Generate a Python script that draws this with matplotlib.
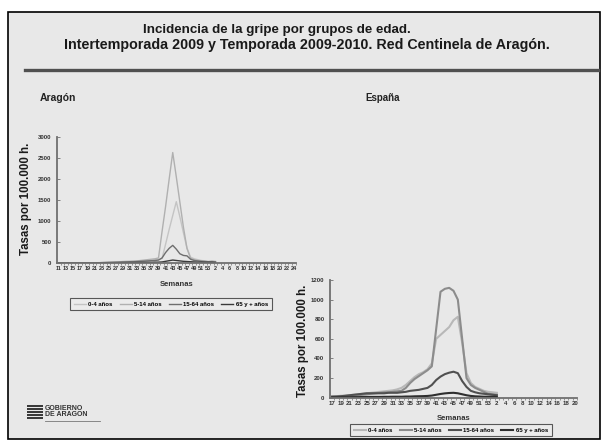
import numpy as np
import matplotlib
matplotlib.use("Agg")
import matplotlib.pyplot as plt
from matplotlib.patches import Rectangle
from matplotlib.lines import Line2D

plt.rcParams['font.family'] = ['Liberation Sans', 'DejaVu Sans']

W, H = 602, 441

# ---- data ----
age_groups = ['0-4 años', '5-14 años', '15-64 años', '65 y + años']

# Aragón: semanas 11/2009 - 24/2010, datos hasta la semana 2/2010
weeks_ar = list(range(11, 54)) + list(range(1, 25))
ar_0_4 = [0, 0, 0, 0, 0, 0, 0, 0, 0, 0, 5, 5,
          10, 10, 15, 20, 20, 25, 30, 30,
          35, 40, 40, 45, 50, 55, 60, 70,
          80, 110, 450, 800, 1130, 1460, 1100, 720, 350, 140,
          100, 80, 60, 50, 40, 50, 40]
ar_5_14 = [0, 0, 0, 0, 0, 0, 0, 0, 0, 0, 5, 5,
           10, 15, 20, 20, 25, 30, 35, 40,
           40, 45, 50, 60, 70, 80, 90, 100,
           120, 750, 1350, 2000, 2630, 2050, 1450, 850, 350, 110,
           80, 60, 50, 40, 30, 40, 30]
ar_15_64 = [0, 0, 0, 0, 0, 0, 0, 0, 0, 0, 3, 5,
            8, 10, 12, 15, 18, 20, 25, 25,
            30, 30, 35, 40, 45, 50, 55, 60,
            70, 120, 250, 350, 420, 330, 220, 180, 170, 90,
            60, 50, 40, 35, 30, 30, 25]
ar_65 = [0, 0, 0, 0, 0, 0, 0, 0, 0, 0, 0, 0,
         2, 3, 5, 5, 5, 8, 8, 10,
         10, 10, 12, 12, 15, 15, 15, 20,
         20, 25, 40, 55, 70, 60, 50, 40, 35, 30,
         25, 20, 20, 15, 15, 15, 10]

# España: semanas 17/2009 - 20/2010, datos hasta la semana 2/2010
weeks_es = list(range(17, 54)) + list(range(1, 21))
es_0_4 = [15, 15, 20, 20, 25, 30, 35, 40, 45, 50,
          55, 60, 65, 70, 75, 85, 100, 130,
          170, 210, 240, 260, 290, 350, 600, 640, 680, 720, 790, 825,
          560, 250, 150, 110, 90, 70, 60,
          55, 50]
es_5_14 = [10, 10, 12, 12, 15, 20, 25, 30, 35, 40,
           45, 50, 55, 55, 60, 65, 70, 100,
           150, 190, 220, 250, 280, 320, 700, 1080, 1110, 1120, 1090, 1000,
           600, 200, 130, 100, 80, 60, 40,
           35, 30]
es_15_64 = [10, 12, 15, 20, 25, 30, 35, 40, 45, 45,
            45, 45, 45, 50, 50, 50, 55, 60,
            70, 75, 80, 90, 100, 130, 180, 215, 240, 255, 265, 250,
            170, 110, 70, 55, 45, 40, 35,
            30, 25]
es_65 = [3, 3, 4, 5, 5, 6, 6, 7, 8, 8,
         8, 8, 9, 9, 10, 10, 10, 12,
         12, 14, 15, 16, 18, 22, 30, 38, 44, 48, 50, 45,
         35, 25, 18, 14, 12, 10, 10,
         10, 8]

ar_yticks = [0, 500, 1000, 1500, 2000, 2500, 3000]
es_yticks = [0, 200, 400, 600, 800, 1000, 1200]

ar_colors = ['#c4c4c4', '#b0b0b0', '#6e6e6e', '#3a3a3a']
es_colors = ['#b8b8b8', '#8c8c8c', '#505050', '#2e2e2e']


def box(l, t, r, b):
    return [l / W, 1 - b / H, (r - l) / W, (b - t) / H]


def fx(x):
    return x / W


def fy(y):
    return 1 - y / H


fig = plt.figure(figsize=(W / 100, H / 100), dpi=100, facecolor='white')

# fondo de la diapositiva
fig.patches.append(Rectangle((fx(8), fy(439)), fx(600) - fx(8), fy(12) - fy(439),
                             transform=fig.transFigure, facecolor='#e8e8e8',
                             edgecolor='black', linewidth=1.2, zorder=-5))
fig.lines.append(Line2D([fx(25), fx(598)], [fy(69.5), fy(69.5)],
                        transform=fig.transFigure, color='#505050', linewidth=2.4))

fig.text(fx(277), fy(30), 'Incidencia de la gripe por grupos de edad.',
         ha='center', va='center', fontsize=9.6, fontweight='bold', color='#1a1a1a')
fig.text(fx(307), fy(45), 'Intertemporada 2009 y Temporada 2009-2010. Red Centinela de Aragón.',
         ha='center', va='center', fontsize=10.3, fontweight='bold', color='#1a1a1a')

fig.text(fx(40), fy(98), 'Aragón', ha='left', va='center', fontsize=7.5,
         fontweight='bold', color='#222222')
fig.text(fx(383), fy(98), 'España', ha='center', va='center', fontsize=7,
         fontweight='bold', color='#222222')


def draw_panel(rect, weeks, series, colors, lw, yticks, xsize, ylab_x, ylab_y,
               sem_y, leg_xy, colsp):
    ax = fig.add_axes(rect)
    ax.set_facecolor('none')
    n = len(weeks)
    handles = []
    for vals, col, lab in zip(series, colors, age_groups):
        y = np.full(n, np.nan)
        y[:len(vals)] = vals
        h, = ax.plot(np.arange(n), y, color=col, linewidth=lw, label=lab)
        handles.append(h)
    ax.set_xlim(-0.5, n - 0.5)
    ax.set_ylim(0, yticks[-1])
    ax.set_yticks(yticks)
    ax.set_yticklabels([str(t) for t in yticks])
    idx = np.arange(0, n, 2)
    ax.set_xticks(idx)
    ax.set_xticklabels([str(weeks[i]) for i in idx])
    ax.set_xticks(np.arange(n) + 0.5, minor=True)
    for s in ['top', 'right']:
        ax.spines[s].set_visible(False)
    for s in ['left', 'bottom']:
        ax.spines[s].set_color('#707070')
        ax.spines[s].set_linewidth(1.3)
    ax.tick_params(axis='y', direction='in', length=2, width=0.6, colors='#707070',
                   labelcolor='#333333', labelsize=4.3, pad=4)
    ax.tick_params(axis='x', which='major', length=0, labelcolor='#333333',
                   labelsize=xsize, pad=2.5)
    ax.tick_params(axis='x', which='minor', length=1.5, width=0.5, colors='#707070')
    for t in ax.get_xticklabels() + ax.get_yticklabels():
        t.set_fontweight('bold')
    fig.text(fx(ylab_x), fy(ylab_y), 'Tasas por 100.000 h.', rotation=90,
             ha='center', va='center', fontsize=8.3, fontweight='bold', color='#1a1a1a')
    fig.text(fx(rect[0] * W + rect[2] * W / 2), fy(sem_y), 'Semanas', ha='center',
             va='center', fontsize=5.5, fontweight='bold', color='#333333')
    leg = fig.legend(handles=handles, labels=age_groups, loc='center',
                     bbox_to_anchor=(fx(leg_xy[0]), fy(leg_xy[1])), ncol=4,
                     prop={'size': 4.3, 'weight': 'bold'}, frameon=True,
                     fancybox=False, edgecolor='#333333', handlelength=2.0,
                     columnspacing=colsp, borderpad=0.6, handletextpad=0.4)
    leg.get_frame().set_facecolor('#ececec')
    leg.get_frame().set_linewidth(0.8)
    return ax


draw_panel(box(57, 137, 295.6, 263), weeks_ar,
           [ar_0_4, ar_5_14, ar_15_64, ar_65], ar_colors, 1.0, ar_yticks, 4.0,
           26, 199, 285, (171, 304), 1.2)
draw_panel(box(330, 280, 577, 397.7), weeks_es,
           [es_0_4, es_5_14, es_15_64, es_65], es_colors, 1.5, es_yticks, 4.4,
           303, 341, 419, (451, 430), 1.2)

# logotipo
for i in range(5):
    fig.patches.append(Rectangle((fx(27), fy(405 + i * 3 + 2)), fx(16), fy(0) - fy(1.8),
                                 transform=fig.transFigure, facecolor='#3a3a3a',
                                 edgecolor='none'))
fig.text(fx(45), fy(408), 'GOBIERNO', ha='left', va='center', fontsize=5,
         fontweight='bold', color='#333333')
fig.text(fx(45), fy(415), 'DE ARAGON', ha='left', va='center', fontsize=5,
         fontweight='bold', color='#333333')
fig.lines.append(Line2D([fx(45), fx(100)], [fy(421), fy(421)],
                        transform=fig.transFigure, color='#777777', linewidth=0.6))

fig.savefig('out.png', dpi=100, facecolor='white')
